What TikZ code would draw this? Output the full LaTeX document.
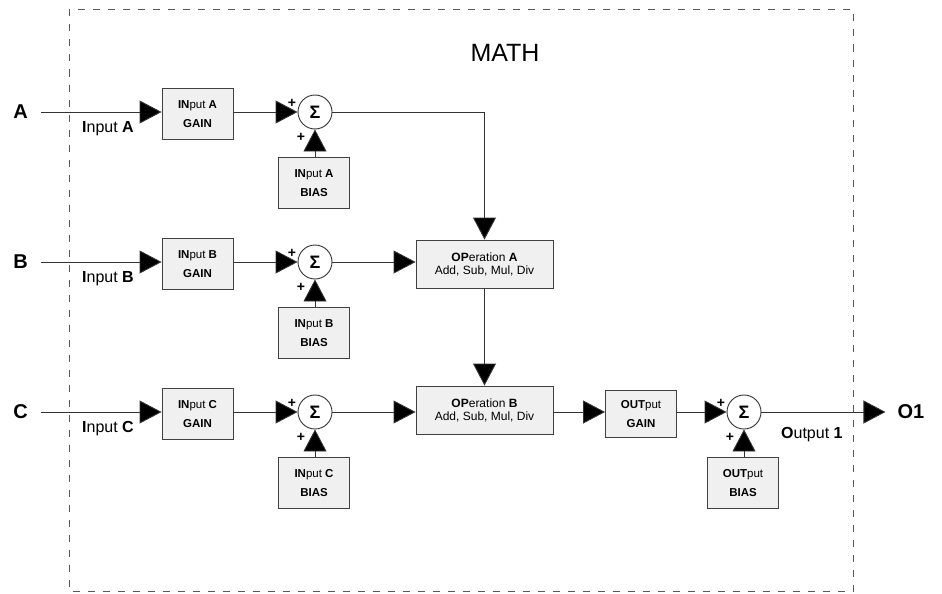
\documentclass[tikz,border=0pt]{standalone}
\usepackage{fontspec}
\setmainfont{Liberation Sans}
\usepackage{tikz}
\usetikzlibrary{positioning, arrows.meta}

\begin{document}
\begin{tikzpicture}[
    x=1pt, y=-1pt,
    font=\fontsize{10}{12}\selectfont,
    blk/.style={
        draw=black!75, fill=gray!12, line width=0.9pt,
        minimum width=71pt, minimum height=51pt, align=center,
        inner sep=2pt, font=\fontsize{11.5}{19}\selectfont,
    },
    opbox/.style={
        draw=black!75, fill=gray!12, line width=0.9pt,
        minimum width=137pt, minimum height=48pt, align=center,
        inner sep=2pt, font=\fontsize{12}{13}\selectfont,
    },
    sumn/.style={
        draw=black!80, circle, fill=white, minimum size=34pt,
        inner sep=0pt, line width=0.9pt, font=\fontsize{18}{18}\selectfont\bfseries,
    },
    pm/.style={font=\fontsize{14}{14}\selectfont\bfseries, inner sep=0pt},
    port/.style={font=\fontsize{20}{20}\selectfont\bfseries, inner sep=0pt},
    sig/.style={font=\fontsize{16}{16}\selectfont, inner sep=0pt, anchor=base west},
    arrow/.style={-{Triangle[length=22pt, width=23pt, fill=black]}, draw=black!80, line width=0.9pt},
    frame/.style={draw=black!65, dash pattern=on 7pt off 8pt, line width=0.9pt},
]
\useasboundingbox (0,0) rectangle (942,594);

% ── MATH block frame ─────────────────────────────────────────────────
\draw[frame] (69,9.5) rectangle (853,591);
\node[font=\fontsize{25}{25}\selectfont] (title) at (505,53) {MATH};

% ── Input ports ──────────────────────────────────────────────────────
\node[port] (portA) at (20.5,112) {A};
\node[port] (portB) at (20.5,262) {B};
\node[port] (portC) at (20.5,412) {C};
\node[sig] (sigA) at (82,132) {\textbf{I}nput \textbf{A}};
\node[sig] (sigB) at (82,282) {\textbf{I}nput \textbf{B}};
\node[sig] (sigC) at (82,432) {\textbf{I}nput \textbf{C}};

% ── Input gains ──────────────────────────────────────────────────────
\node[blk] (gainA) at (197.5,114) {\textbf{IN}put \textbf{A}\\\textbf{GAIN}};
\node[blk] (gainB) at (197.5,264) {\textbf{IN}put \textbf{B}\\\textbf{GAIN}};
\node[blk] (gainC) at (197.5,414) {\textbf{IN}put \textbf{C}\\\textbf{GAIN}};

% ── Summing junctions + bias ─────────────────────────────────────────
\node[sumn] (sumA) at (315,112) {Σ};
\node[sumn] (sumB) at (315,262) {Σ};
\node[sumn] (sumC) at (315,412) {Σ};
\node[blk] (biasA) at (314,183) {\textbf{IN}put \textbf{A}\\\textbf{BIAS}};
\node[blk] (biasB) at (314,333) {\textbf{IN}put \textbf{B}\\\textbf{BIAS}};
\node[blk] (biasC) at (314,483) {\textbf{IN}put \textbf{C}\\\textbf{BIAS}};
\node[pm] (pA1) at ([shift={(-23,-9)}]sumA) {+};
\node[pm] (pA2) at ([shift={(-14,25)}]sumA) {+};
\node[pm] (pB1) at ([shift={(-23,-9)}]sumB) {+};
\node[pm] (pB2) at ([shift={(-14,25)}]sumB) {+};
\node[pm] (pC1) at ([shift={(-23,-9)}]sumC) {+};
\node[pm] (pC2) at ([shift={(-14,25)}]sumC) {+};

% ── Operations ───────────────────────────────────────────────────────
\node[opbox] (opA) at (484.5,264) {\textbf{OP}eration \textbf{A}\\Add, Sub, Mul, Div};
\node[opbox] (opB) at (484.5,410) {\textbf{OP}eration \textbf{B}\\Add, Sub, Mul, Div};

% ── Output stage ─────────────────────────────────────────────────────
\node[blk, minimum height=47pt] (gainO) at (641,414) {\textbf{OUT}put\\\textbf{GAIN}};
\node[sumn] (sumO) at (744,412) {Σ};
\node[blk] (biasO) at (743,483) {\textbf{OUT}put\\\textbf{BIAS}};
\node[pm] (pO1) at ([shift={(-23,-9)}]sumO) {+};
\node[pm] (pO2) at ([shift={(-14,25)}]sumO) {+};
\node[sig] (sigO) at (781,438) {\textbf{O}utput \textbf{1}};
\node[port] (portO) at (911,412) {O1};

% ── Edges ────────────────────────────────────────────────────────────
\draw[arrow] ([xshift=13pt]portA.east) -- (gainA.west |- portA);
\draw[arrow] ([xshift=13pt]portB.east) -- (gainB.west |- portB);
\draw[arrow] ([xshift=13pt]portC.east) -- (gainC.west |- portC);
\draw[arrow] (gainA.east |- sumA) -- (sumA.west);
\draw[arrow] (gainB.east |- sumB) -- (sumB.west);
\draw[arrow] (gainC.east |- sumC) -- (sumC.west);
\draw[arrow] (biasA.north -| sumA) -- (sumA.south);
\draw[arrow] (biasB.north -| sumB) -- (sumB.south);
\draw[arrow] (biasC.north -| sumC) -- (sumC.south);

\draw[arrow] (sumA.east) -| (opA.north);
\draw[arrow] (sumB.east) -- (opA.west |- sumB);
\draw[arrow] (opA.south) -- (opB.north);
\draw[arrow] (sumC.east) -- (opB.west |- sumC);
\draw[arrow] (opB.east |- sumC) -- (gainO.west |- sumO);

\draw[arrow] (gainO.east |- sumO) -- (sumO.west);
\draw[arrow] (biasO.north -| sumO) -- (sumO.south);
\draw[arrow] (sumO.east) -- ([xshift=-12pt]portO.west);

\end{tikzpicture}
\end{document}
